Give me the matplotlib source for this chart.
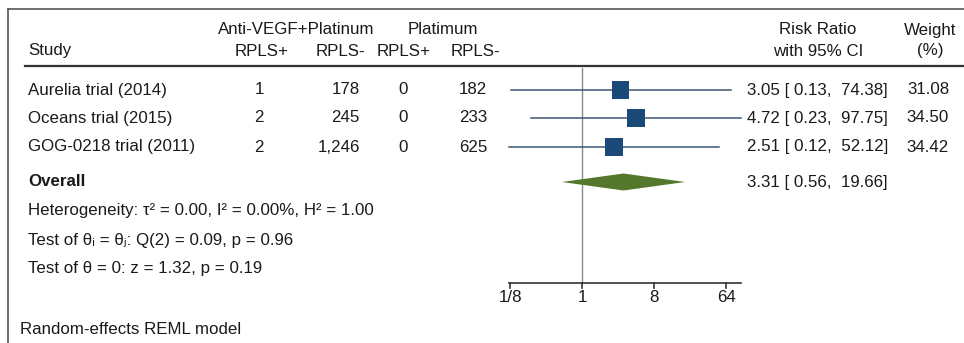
import numpy as np
import matplotlib.pyplot as plt
from matplotlib.ticker import FixedLocator

plt.rcParams['font.family'] = ['Liberation Sans', 'DejaVu Sans']

studies = ['Aurelia trial (2014)', 'Oceans trial (2015)', 'GOG-0218 trial (2011)']
vegf_pos = [1, 2, 2]
vegf_neg = [178, 245, 1246]
plat_pos = [0, 0, 0]
plat_neg = [182, 233, 625]
rr = [3.05, 4.72, 2.51]
ci_low = [0.13, 0.23, 0.12]
ci_high = [74.38, 97.75, 52.12]
weights = [31.08, 34.50, 34.42]
overall = (3.31, 0.56, 19.66)
tick_vals = [1 / 8, 1, 8, 64]
tick_labels = ['1/8', '1', '8', '64']

W, H = 964, 343
fs = 12.2
box_col = '#1b4a7a'
line_col = '#3a5670'
diam_col = '#53782c'
txt = '#1a1a1a'

fig = plt.figure(figsize=(W / 100, H / 100), dpi=100)

# text layer in pixel coordinates
bg = fig.add_axes([0, 0, 1, 1])
bg.set_xlim(0, W)
bg.set_ylim(H, 0)
bg.axis('off')

# forest layer: log2 x, same pixel rows as the text layer
x0, x1 = 480, 760
px_one, px_per_doubling = 582, 24.0
fa = fig.add_axes([x0 / W, 0, (x1 - x0) / W, 1])
fa.set_xscale('log', base=2)
fa.set_xlim(2 ** ((x0 - px_one) / px_per_doubling), 2 ** ((x1 - px_one) / px_per_doubling))
fa.set_ylim(H, 0)
fa.axis('off')
fa.patch.set_alpha(0)

# frame lines
bg.plot([8, 8], [9, H], color='#555555', lw=1.2)
bg.plot([8, W], [9, 9], color='#555555', lw=1.2)
bg.plot([25, W], [66, 66], color='#333333', lw=1.6)

# headers
r1, r2 = 30, 51
bg.text(28, r2, 'Study', fontsize=fs, va='center', color=txt)
bg.text(296, r1, 'Anti-VEGF+Platinum', fontsize=fs, va='center', ha='center', color=txt)
bg.text(443, r1, 'Platimum', fontsize=fs, va='center', ha='center', color=txt)
bg.text(262, r2, 'RPLS+', fontsize=fs, va='center', ha='center', color=txt)
bg.text(365, r2, 'RPLS-', fontsize=fs, va='center', ha='right', color=txt)
bg.text(404, r2, 'RPLS+', fontsize=fs, va='center', ha='center', color=txt)
bg.text(475, r2, 'RPLS-', fontsize=fs, va='center', ha='center', color=txt)
bg.text(818, r1, 'Risk Ratio', fontsize=fs, va='center', ha='center', color=txt)
bg.text(818, r2, 'with 95% CI', fontsize=fs, va='center', ha='center', color=txt)
bg.text(930, r1, 'Weight', fontsize=fs, va='center', ha='center', color=txt)
bg.text(930, r2, '(%)', fontsize=fs, va='center', ha='center', color=txt)

rows = [90, 118, 147]
for i, y in enumerate(rows):
    bg.text(28, y, studies[i], fontsize=fs, va='center', color=txt)
    bg.text(259, y, f'{vegf_pos[i]}', fontsize=fs, va='center', ha='center', color=txt)
    bg.text(360, y, f'{vegf_neg[i]:,}', fontsize=fs, va='center', ha='right', color=txt)
    bg.text(403, y, f'{plat_pos[i]}', fontsize=fs, va='center', ha='center', color=txt)
    bg.text(473, y, f'{plat_neg[i]}', fontsize=fs, va='center', ha='center', color=txt)
    bg.text(747, y, f'{rr[i]:.2f} [{ci_low[i]:5.2f}, {ci_high[i]:6.2f}]',
            fontsize=fs, va='center', color=txt)
    bg.text(928, y, f'{weights[i]:.2f}', fontsize=fs, va='center', ha='center', color=txt)
    fa.plot([ci_low[i], ci_high[i]], [y, y], color=line_col, lw=1.1, zorder=2)
    fa.scatter([rr[i]], [y], marker='s', s=weights[i] * 4.9, color=box_col,
               edgecolors='none', zorder=3)

# overall diamond
oy = 182
est, lo, hi = overall
fa.fill([lo, est, hi, est], [oy, oy - 8.5, oy, oy + 8.5], color=diam_col, lw=0, zorder=3)
bg.text(28, oy, 'Overall', fontsize=fs, va='center', fontweight='bold', color=txt)
bg.text(747, oy, f'{est:.2f} [{lo:5.2f}, {hi:6.2f}]', fontsize=fs, va='center', color=txt)

bg.text(28, 211, 'Heterogeneity: τ² = 0.00, I² = 0.00%, H² = 1.00', fontsize=fs, va='center', color=txt)
bg.text(28, 240, 'Test of θᵢ = θⱼ: Q(2) = 0.09, p = 0.96', fontsize=fs, va='center', color=txt)
bg.text(28, 268, 'Test of θ = 0: z = 1.32, p = 0.19', fontsize=fs, va='center', color=txt)
bg.text(20, 330, 'Random-effects REML model', fontsize=fs, va='center', color=txt)

# null line and x axis
ax_y = 283
fa.plot([1, 1], [68, ax_y], color='#8a8a8a', lw=1.0, zorder=1)
fa.plot([min(ci_low), max(ci_high)], [ax_y, ax_y], color='#333333', lw=1.2)
for v, lab in zip(tick_vals, tick_labels):
    fa.plot([v, v], [ax_y, ax_y + 5], color='#333333', lw=1.2)
    fa.text(v, ax_y + 15, lab, fontsize=fs, ha='center', va='center', color=txt)

fig.savefig('out.png', dpi=100, facecolor='white')
